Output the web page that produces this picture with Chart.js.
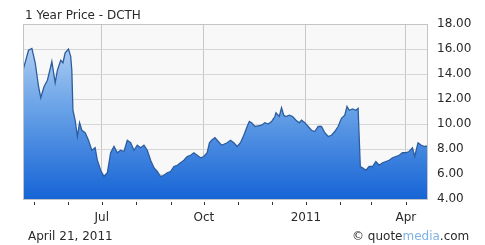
<!DOCTYPE html>
<html>
<head>
<meta charset="utf-8">
<script src="https://cdn.jsdelivr.net/npm/chart.js@4"></script>
<style>
  html, body { margin: 0; padding: 0; background: #fff; }
  #wrap { width: 485px; height: 245px; position: relative; }
</style>
</head>
<body>
<div id="wrap"><canvas id="priceChart"></canvas></div>
<script>
// days since April 21, 2010
let days = [0, 5, 8, 11, 14, 16, 19, 22, 25, 26, 29, 31, 34, 36, 38, 41, 43, 44, 45, 47, 49, 51, 53, 56, 59, 62,
    65, 67, 70, 73, 76, 79, 82, 85, 88, 91, 94, 97, 100, 103, 106, 109, 112, 115, 118, 121, 124, 127, 130, 133,
    136, 139, 142, 145, 148, 151, 154, 157, 160, 163, 166, 168, 170, 173, 176, 179, 184, 187, 190, 193, 196, 199,
    202, 204, 206, 209, 212, 215, 218, 221, 224, 227, 228, 231, 233, 235, 237, 240, 243, 246, 249, 251, 254, 257,
    260, 263, 266, 269, 272, 275, 278, 281, 284, 287, 290, 292, 294, 297, 300, 302, 304, 306, 309, 312, 315, 318,
    321, 324, 327, 330, 333, 336, 339, 342, 345, 348, 351, 353, 356, 359, 362, 365];
let prices = [14.3, 15.9, 16.05, 14.9, 13.0, 12.1, 13.0, 13.5, 14.6, 15.0, 13.3, 14.3, 15.1, 14.9, 15.7, 16.0, 15.4, 14.3, 11.1, 10.3, 9.0, 10.1, 9.5, 9.3, 8.7, 7.9,
    8.1, 7.1, 6.3, 5.8, 6.1, 7.7, 8.2, 7.7, 7.9, 7.8, 8.7, 8.5, 7.9, 8.3, 8.1, 8.3, 7.9, 7.1, 6.5, 6.2, 5.8, 5.9, 6.1, 6.2,
    6.6, 6.7, 6.9, 7.1, 7.4, 7.5, 7.7, 7.5, 7.3, 7.4, 7.7, 8.5, 8.7, 8.9, 8.6, 8.3, 8.5, 8.7, 8.5, 8.2, 8.5, 9.1,
    9.8, 10.2, 10.1, 9.8, 9.85, 9.9, 10.1, 10.0, 10.2, 10.6, 10.9, 10.6, 11.3, 10.7, 10.6, 10.7, 10.6, 10.3, 10.1, 10.3, 10.1, 9.8,
    9.5, 9.4, 9.8, 9.8, 9.3, 9.0, 9.1, 9.4, 9.8, 10.45, 10.7, 11.4, 11.1, 11.2, 11.1, 11.25, 6.6, 6.5, 6.3, 6.6, 6.6, 7.0,
    6.7, 6.9, 7.0, 7.1, 7.3, 7.4, 7.5, 7.7, 7.7, 7.8, 8.1, 7.4, 8.5, 8.3, 8.2, 8.25];

// month starts on the time axis, only the quarters get a label
let monthDays = [10, 41, 71, 102, 133, 163, 194, 224, 255, 286, 314, 345];
let monthLabels = ['', '', 'Jul', '', '', 'Oct', '', '', '2011', '', '', 'Apr'];
let priceTicks = [4, 6, 8, 10, 12, 14, 16, 18];

const FONT = 'DejaVu Sans';

// background, frame, month tick marks and the loose texts
const decorations = {
    id: 'decorations',
    beforeDraw(chart) {
        const { ctx, chartArea: a } = chart;
        ctx.save();
        ctx.fillStyle = '#f8f8f8';
        ctx.fillRect(a.left, a.top, a.right - a.left, a.bottom - a.top);
        ctx.restore();
    },
    afterDraw(chart) {
        const { ctx, chartArea: a } = chart;
        const xs = chart.scales.x;
        ctx.save();
        ctx.strokeStyle = '#c4c4c4';
        ctx.lineWidth = 1;
        ctx.strokeRect(a.left + 0.5, a.top + 0.5, a.right - a.left - 1, a.bottom - a.top);

        ctx.strokeStyle = '#333';
        monthDays.forEach(d => {
            const px = Math.round(xs.getPixelForValue(d)) + 0.5;
            ctx.beginPath();
            ctx.moveTo(px, a.bottom + 3);
            ctx.lineTo(px, a.bottom + 6);
            ctx.stroke();
        });

        ctx.fillStyle = '#2a2a2a';
        ctx.textBaseline = 'alphabetic';
        ctx.font = '12px "' + FONT + '"';
        ctx.fillText('1 Year Price - DCTH', 25, 19);
        ctx.fillText('April 21, 2011', 28, 240);

        // quotemedia mark
        let x = 352;
        ctx.fillText('\u00a9', x, 240);
        x += ctx.measureText('\u00a9 ').width;
        ctx.fillText('quote', x, 240);
        x += ctx.measureText('quote').width;
        ctx.fillStyle = '#7fb2e6';
        ctx.fillText('media', x, 240);
        x += ctx.measureText('media').width;
        ctx.fillStyle = '#2a2a2a';
        ctx.fillText('.com', x, 240);
        ctx.restore();
    }
};

let chart;
document.addEventListener('DOMContentLoaded', () => {
    let ctx = document.getElementById('priceChart').getContext('2d');
    chart = new Chart(ctx, {
        type: 'line',
        data: {
            datasets: [{
                label: 'DCTH',
                data: days.map((d, i) => ({ x: d, y: prices[i] })),
                borderColor: '#2d5d9e',
                borderWidth: 1.3,
                pointRadius: 0,
                tension: 0,
                fill: 'start',
                backgroundColor: (c) => {
                    const a = c.chart.chartArea;
                    if (!a) return '#5b9be4';
                    const g = c.chart.ctx.createLinearGradient(0, a.top, 0, a.bottom);
                    g.addColorStop(0, '#c6dcf6');
                    g.addColorStop(0.45, '#6ea6e8');
                    g.addColorStop(1, '#1664d6');
                    return g;
                }
            }]
        },
        options: {
            responsive: true,
            maintainAspectRatio: false,
            animation: false,
            layout: { padding: { left: 23, top: 24, right: 0, bottom: 0 } },
            plugins: {
                legend: { display: false },
                tooltip: { enabled: false }
            },
            scales: {
                x: {
                    type: 'linear',
                    min: 0,
                    max: 365,
                    afterBuildTicks: (s) => { s.ticks = monthDays.map(v => ({ value: v })); },
                    afterFit: (s) => { s.height = 46; },
                    grid: {
                        color: (c) => (c.tick && monthLabels[monthDays.indexOf(c.tick.value)]) ? '#c8c8c8' : 'rgba(0,0,0,0)',
                        drawTicks: false
                    },
                    border: { display: false },
                    ticks: {
                        autoSkip: false,
                        maxRotation: 0,
                        padding: 12,
                        color: '#2a2a2a',
                        font: { family: FONT, size: 12 },
                        callback: (v, i) => monthLabels[i]
                    }
                },
                y: {
                    position: 'right',
                    min: 4,
                    max: 18,
                    afterBuildTicks: (s) => { s.ticks = priceTicks.map(v => ({ value: v })); },
                    afterFit: (s) => { s.width = 57; },
                    grid: { color: '#d6d6d6', drawTicks: false },
                    border: { display: false },
                    ticks: {
                        padding: 9,
                        color: '#2a2a2a',
                        font: { family: FONT, size: 12 },
                        callback: (v) => Number(v).toFixed(2)
                    }
                }
            }
        },
        plugins: [decorations]
    });
});
</script>
</body>
</html>
